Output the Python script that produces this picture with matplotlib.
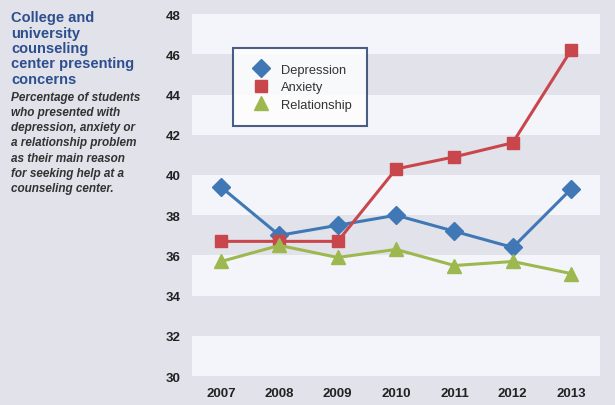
import matplotlib.pyplot as plt

plt.rcParams['font.family'] = ['Liberation Sans', 'DejaVu Sans']

years = [2007, 2008, 2009, 2010, 2011, 2012, 2013]
depression = [39.4, 37.0, 37.5, 38.0, 37.2, 36.4, 39.3]
anxiety = [36.7, 36.7, 36.7, 40.3, 40.9, 41.6, 46.2]
relationship = [35.7, 36.5, 35.9, 36.3, 35.5, 35.7, 35.1]
yticks = [30, 32, 34, 36, 38, 40, 42, 44, 46, 48]

bg = "#e1e2ea"
fig = plt.figure(figsize=(6.15, 4.06), dpi=100, facecolor=bg)
ax = fig.add_axes([0.312, 0.071, 0.664, 0.892])
ax.set_facecolor(bg)

# alternating bands
for lo in range(30, 48, 4):
    ax.axhspan(lo, lo + 2, color="#f4f5fa", zorder=0, lw=0)

ax.plot(years, depression, color="#3f78b5", lw=2.2, marker="D", ms=9,
        label="Depression", zorder=3)
ax.plot(years, anxiety, color="#c9474c", lw=2.2, marker="s", ms=9,
        label="Anxiety", zorder=3)
ax.plot(years, relationship, color="#9cb84e", lw=2.2, marker="^", ms=10,
        label="Relationship", zorder=3)

ax.set_xlim(2006.5, 2013.5)
ax.set_ylim(30, 48)
ax.set_yticks(yticks)
ax.set_xticks(years)
for s in ax.spines.values():
    s.set_visible(False)
ax.tick_params(length=0, labelsize=9.5, labelcolor="#222222", pad=8)
for lab in ax.get_xticklabels() + ax.get_yticklabels():
    lab.set_fontweight("bold")

# legend with markers only
handles = [plt.Line2D([], [], ls="none", marker="D", ms=9, color="#3f78b5"),
           plt.Line2D([], [], ls="none", marker="s", ms=9, color="#c9474c"),
           plt.Line2D([], [], ls="none", marker="^", ms=10, color="#9cb84e")]
leg = ax.legend(handles, ["Depression", "Anxiety", "Relationship"],
                loc="upper left", bbox_to_anchor=(0.1, 0.905), fontsize=9.3,
                frameon=True, fancybox=False, borderpad=1.2, handletextpad=0.5,
                labelspacing=0.42, borderaxespad=0)
leg.get_frame().set_edgecolor("#1f3766")
leg.get_frame().set_linewidth(1.5)
leg.get_frame().set_facecolor("white")
for t in leg.get_texts():
    t.set_color("#333333")

fig.text(0.018, 0.972, "College and\nuniversity\ncounseling\ncenter presenting\nconcerns",
         ha="left", va="top", fontsize=10.5, fontweight="bold", color="#2d4f8e",
         linespacing=1.12)
fig.text(0.018, 0.774, "Percentage of students\nwho presented with\ndepression, anxiety or\n"
         "a relationship problem\nas their main reason\nfor seeking help at a\ncounseling center.",
         ha="left", va="top", fontsize=8.5, fontstyle="italic", fontweight="bold",
         color="#333333", linespacing=1.36)

fig.savefig("out.png", dpi=100, facecolor=bg)
